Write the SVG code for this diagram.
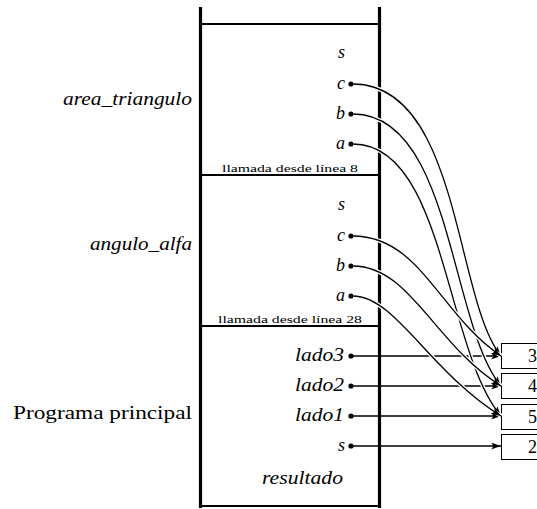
<svg xmlns="http://www.w3.org/2000/svg" width="537" height="509" viewBox="0 0 537 509">
<defs>
<marker id="arr" markerUnits="userSpaceOnUse" markerWidth="12" markerHeight="8" refX="10" refY="3.5" orient="auto">
<path d="M0,0 Q4,3.5 0,7 L10,3.5 Z" fill="#000"/>
</marker>
<style>
text{fill:#000;font-family:"Liberation Serif","DejaVu Serif",serif}
.it{font-style:italic;font-size:18px}
.rm{font-size:18px}
.sm{font-size:10px}
.bar{stroke:#000;stroke-width:3.2;fill:none}
.sep{stroke:#000;stroke-width:2;fill:none}
.halo{stroke:#fff;stroke-width:4;fill:none}
.ln{stroke:#000;stroke-width:1.3;fill:none}
.box{fill:#fff;stroke:#000;stroke-width:1}
.num{font-size:18px}
</style>
</defs>
<rect width="537" height="509" fill="#fff"/>
<g id="stack">
<line class="bar" x1="200.5" y1="7" x2="200.5" y2="508"/>
<line class="bar" x1="379.5" y1="7" x2="379.5" y2="508"/>
<line class="sep" x1="200" y1="24" x2="380" y2="24"/>
<line class="sep" x1="200" y1="175" x2="380" y2="175"/>
<line class="sep" x1="200" y1="326" x2="380" y2="326"/>
<line class="sep" x1="200" y1="506" x2="380" y2="506"/>
</g>
<g id="frame-area">
<text class="it" x="63" y="105" textLength="129" lengthAdjust="spacingAndGlyphs">area_triangulo</text>
<text class="it" x="345" y="58" text-anchor="end">s</text>
<text class="it" x="345" y="89" text-anchor="end">c</text>
<text class="it" x="345" y="119" text-anchor="end">b</text>
<text class="it" x="345" y="149" text-anchor="end">a</text>
<circle cx="351" cy="84" r="2.6"/>
<circle cx="351" cy="114" r="2.6"/>
<circle cx="351" cy="144" r="2.6"/>
<text class="sm" x="222" y="171.5" textLength="136" lengthAdjust="spacingAndGlyphs">llamada desde línea 8</text>
</g>
<g id="frame-angulo">
<text class="it" x="90" y="250" textLength="102" lengthAdjust="spacingAndGlyphs">angulo_alfa</text>
<text class="it" x="345" y="210" text-anchor="end">s</text>
<text class="it" x="345" y="241" text-anchor="end">c</text>
<text class="it" x="345" y="271" text-anchor="end">b</text>
<text class="it" x="345" y="301" text-anchor="end">a</text>
<circle cx="351" cy="236" r="2.6"/>
<circle cx="351" cy="266" r="2.6"/>
<circle cx="351" cy="296" r="2.6"/>
<text class="sm" x="218" y="322.5" textLength="144" lengthAdjust="spacingAndGlyphs">llamada desde línea 28</text>
</g>
<g id="frame-main">
<text class="rm" x="13" y="419" textLength="179" lengthAdjust="spacingAndGlyphs">Programa principal</text>
<text class="it" x="295" y="361" textLength="49" lengthAdjust="spacingAndGlyphs">lado3</text>
<text class="it" x="295" y="391" textLength="49" lengthAdjust="spacingAndGlyphs">lado2</text>
<text class="it" x="295" y="421" textLength="49" lengthAdjust="spacingAndGlyphs">lado1</text>
<text class="it" x="345" y="451" text-anchor="end">s</text>
<text class="it" x="262" y="484" textLength="81" lengthAdjust="spacingAndGlyphs">resultado</text>
<circle cx="351" cy="356" r="2.6"/>
<circle cx="351" cy="386" r="2.6"/>
<circle cx="351" cy="416" r="2.6"/>
<circle cx="351" cy="446" r="2.6"/>
</g>
<g id="values">
<g id="v3"><rect class="box" x="501.5" y="343.5" width="40" height="25"/><text class="num" x="528" y="362">3</text></g>
<g id="v4"><rect class="box" x="501.5" y="373.5" width="40" height="25"/><text class="num" x="528" y="392">4</text></g>
<g id="v5"><rect class="box" x="501.5" y="404.5" width="40" height="25"/><text class="num" x="528" y="423">5</text></g>
<g id="v2"><rect class="box" x="501.5" y="434.5" width="40" height="25"/><text class="num" x="528" y="453">2</text></g>
</g>
<g id="connectors">
<path class="ln" d="M351,356 L501,356" marker-end="url(#arr)"/>
<path class="ln" d="M351,386 L501,386" marker-end="url(#arr)"/>
<path class="ln" d="M351,416 L501,416" marker-end="url(#arr)"/>
<path class="ln" d="M351,446 L501,446" marker-end="url(#arr)"/>
<path class="halo" d="M353,84 C460,84 455,300 501,356"/>
<path class="ln" d="M353,84 C460,84 455,300 501,356" marker-end="url(#arr)"/>
<path class="halo" d="M353,114 C452,114 450,325 501,386"/>
<path class="ln" d="M353,114 C452,114 450,325 501,386" marker-end="url(#arr)"/>
<path class="halo" d="M353,144 C445,144 445,350 501,416"/>
<path class="ln" d="M353,144 C445,144 445,350 501,416" marker-end="url(#arr)"/>
<path class="halo" d="M353,236 C420,236 440,315 501,356"/>
<path class="ln" d="M353,236 C420,236 440,315 501,356" marker-end="url(#arr)"/>
<path class="halo" d="M353,266 C410,266 435,345 501,386"/>
<path class="ln" d="M353,266 C410,266 435,345 501,386" marker-end="url(#arr)"/>
<path class="halo" d="M353,296 C395,296 430,372 501,416"/>
<path class="ln" d="M353,296 C395,296 430,372 501,416" marker-end="url(#arr)"/>
</g>
</svg>
